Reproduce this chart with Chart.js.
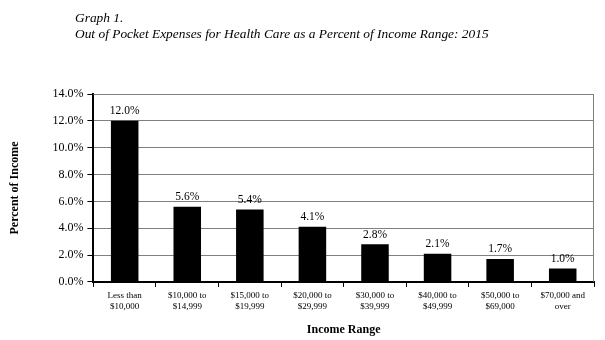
<!DOCTYPE html>
<html>
<head>
<meta charset="utf-8">
<script src="https://cdn.jsdelivr.net/npm/chart.js@4"></script>
<style>
  html, body { margin: 0; padding: 0; background: #fff; }
  #wrap { position: relative; width: 605px; height: 340px; }
  #title {
    position: absolute; left: 75px; top: 10px;
    font-family: "Liberation Serif", serif; font-style: italic;
    font-size: 13.4px; line-height: 16px; color: #000;
  }
  canvas { position: absolute; left: 0; top: 0; }
</style>
</head>
<body>
<div id="wrap">
  <canvas id="chart" width="605" height="340"></canvas>
  <div id="title">Graph 1.<br>Out of Pocket Expenses for Health Care as a Percent of Income Range: 2015</div>
</div>
<script>
const categories = [
  ["Less than", "$10,000"],
  ["$10,000 to", "$14,999"],
  ["$15,000 to", "$19,999"],
  ["$20,000 to", "$29,999"],
  ["$30,000 to", "$39,999"],
  ["$40,000 to", "$49,999"],
  ["$50,000 to", "$69,000"],
  ["$70,000 and", "over"]
];
const percentValues = [12.0, 5.6, 5.4, 4.1, 2.8, 2.1, 1.7, 1.0];
const yTicks = [0, 2, 4, 6, 8, 10, 12, 14];

const serif = "'Liberation Serif', 'Times New Roman', serif";

// value labels above each bar
const barLabels = {
  id: "barLabels",
  afterDatasetsDraw(chart) {
    const ctx = chart.ctx;
    const meta = chart.getDatasetMeta(0);
    ctx.save();
    ctx.font = "11.5px " + serif;
    ctx.fillStyle = "#000";
    ctx.textAlign = "center";
    ctx.textBaseline = "bottom";
    meta.data.forEach((bar, i) => {
      ctx.fillText(percentValues[i].toFixed(1) + "%", bar.x, bar.y - 4);
    });
    ctx.restore();
  }
};

// gray frame round the plot area
const plotFrame = {
  id: "plotFrame",
  afterDraw(chart) {
    const a = chart.chartArea;
    const ctx = chart.ctx;
    ctx.save();
    ctx.strokeStyle = "#808080";
    ctx.lineWidth = 1;
    ctx.beginPath();
    ctx.moveTo(a.left, a.top + 0.5);
    ctx.lineTo(a.right - 0.5, a.top + 0.5);
    ctx.lineTo(a.right - 0.5, a.bottom);
    ctx.stroke();
    ctx.restore();
  }
};

new Chart(document.getElementById("chart"), {
  type: "bar",
  data: {
    labels: categories,
    datasets: [{
      data: percentValues,
      backgroundColor: "#000",
      borderWidth: 0,
      barPercentage: 0.44,
      categoryPercentage: 1.0
    }]
  },
  options: {
    responsive: false,
    animation: false,
    layout: { padding: { top: 94, right: 11, left: 8, bottom: 3 } },
    plugins: {
      legend: { display: false },
      tooltip: { enabled: false }
    },
    scales: {
      y: {
        min: 0,
        max: 14,
        afterBuildTicks: (axis) => { axis.ticks = yTicks.map(v => ({ value: v })); },
        ticks: {
          color: "#000",
          font: { family: serif, size: 12 },
          padding: 4,
          callback: (v) => Number(v).toFixed(1) + "%"
        },
        grid: {
          color: "#808080",
          tickColor: "#000",
          tickLength: 6,
          drawTicks: true
        },
        border: { color: "#000", width: 2 },
        title: {
          display: true,
          text: "Percent of Income",
          color: "#000",
          font: { family: serif, size: 12, weight: "bold" },
          padding: { top: 0, bottom: 26 }
        }
      },
      x: {
        offset: true,
        ticks: {
          color: "#000",
          font: { family: serif, size: 9, lineHeight: 1.15 },
          maxRotation: 0,
          autoSkip: false,
          padding: 4
        },
        grid: {
          display: true,
          drawOnChartArea: false,
          offset: true,
          tickColor: "#000",
          tickLength: 5
        },
        border: { color: "#000", width: 2 },
        title: {
          display: true,
          text: "Income Range",
          color: "#000",
          font: { family: serif, size: 12, weight: "bold" },
          padding: { top: 7, bottom: 0 }
        }
      }
    }
  },
  plugins: [barLabels, plotFrame]
});
</script>
</body>
</html>
